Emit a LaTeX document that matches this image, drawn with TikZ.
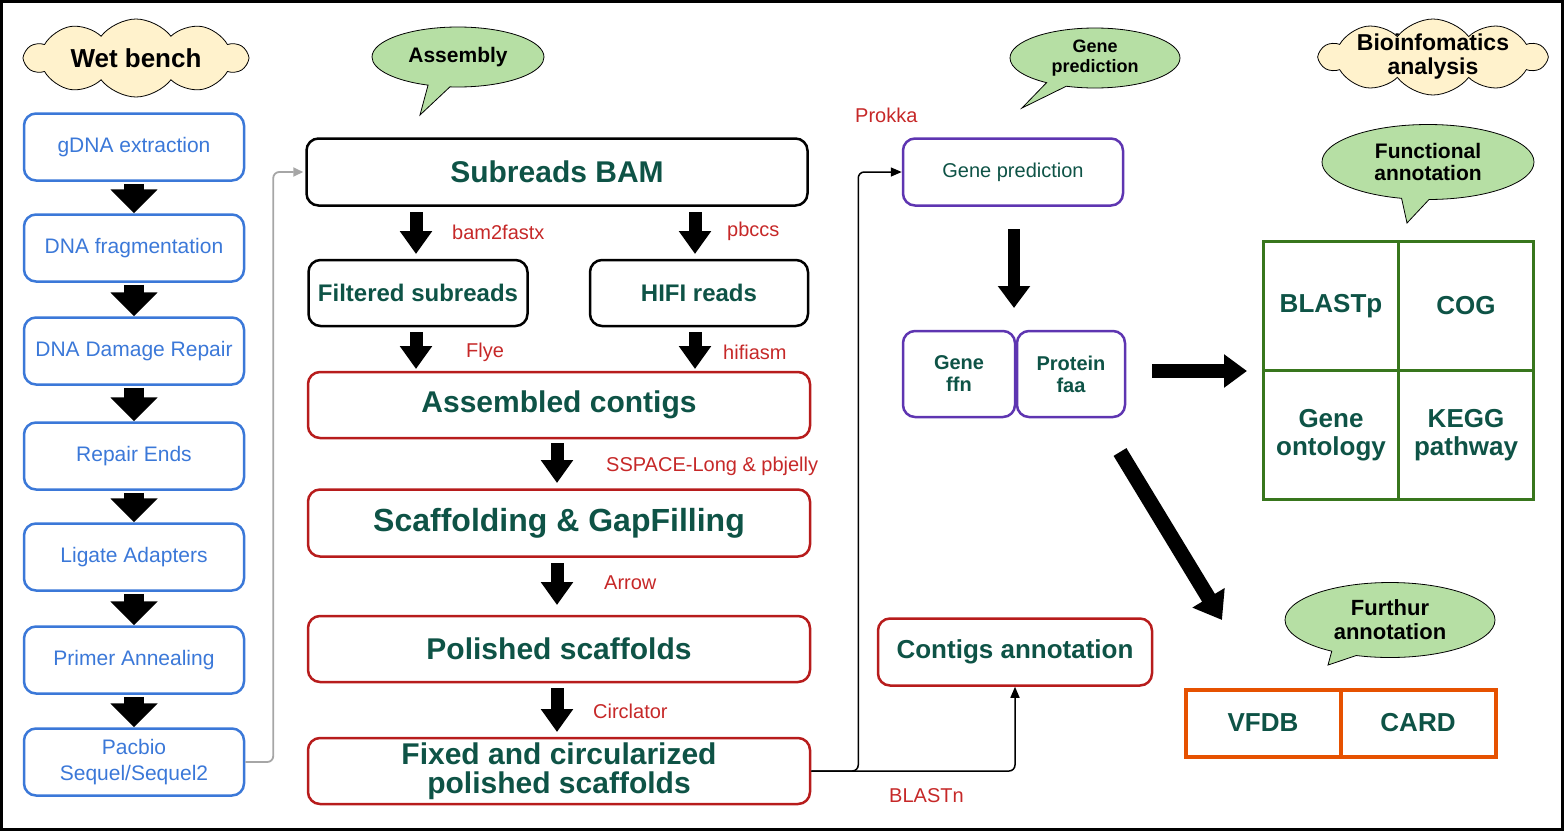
\documentclass[tikz,border=0pt]{standalone}
\usepackage{fontspec}
\setmainfont{Liberation Sans}
\usetikzlibrary{shapes.symbols,shapes.callouts,arrows.meta,calc}
\definecolor{dgreen}{HTML}{0E5346}
\definecolor{lred}{HTML}{C62828}
\definecolor{bred}{HTML}{B71C1C}
\definecolor{wblue}{HTML}{3B78D8}
\definecolor{purp}{HTML}{5E35B1}
\definecolor{ggreen}{HTML}{38761D}
\definecolor{orng}{HTML}{E65100}
\definecolor{callfill}{HTML}{B6DFA4}
\definecolor{cloudfill}{HTML}{FFF2CC}
\tikzset{
  fs/.style={font=\fontsize{#1}{#1}\selectfont},
  wetbox/.style={draw=wblue, line width=2.5pt, rounded corners=12pt, minimum width=220pt, minimum height=67pt, text=wblue, fs=21, align=center, inner sep=0pt},
  asmbox/.style={draw=black, line width=2.5pt, rounded corners=12pt, minimum height=67pt, text=dgreen, inner sep=0pt, align=center},
  redbox/.style={asmbox, draw=bred},
  purpbox/.style={draw=purp, line width=2.5pt, rounded corners=12pt, text=dgreen, inner sep=0pt, align=center},
  cell/.style={draw=ggreen, line width=3pt, minimum width=135pt, minimum height=129pt, text=dgreen, font=\bfseries\fontsize{26}{28}\selectfont, align=center, inner sep=0pt},
  dbcell/.style={draw=orng, line width=4pt, minimum width=155pt, minimum height=67pt, text=dgreen, font=\bfseries\fontsize{26}{28}\selectfont, inner sep=0pt},
  lbl/.style={text=lred, anchor=west, fs=20, inner sep=0pt},
  callbubble/.style={ellipse callout, draw=black, line width=0.8pt, fill=callfill, align=center, inner sep=0pt},
  cloudy/.style={cloud, cloud puffs=10, cloud puff arc=105, cloud ignores aspect, draw=black, line width=0.8pt, fill=cloudfill, align=center, inner sep=0pt},
  wetarrow/.style={line width=20pt, -{Triangle[length=24pt,width=46pt]}},
  blkarrow/.style={line width=13pt, -{Triangle[length=23pt,width=31pt]}},
  conn/.style={line width=1.5pt, rounded corners=6pt, -{Triangle[length=11pt,width=9pt]}},
}
\begin{document}
\begin{tikzpicture}[x=1pt,y=-1pt]
\useasboundingbox (0,0) rectangle (1564,831);
\draw[line width=3pt] (1.5,1.5) rectangle (1562.5,829.5);

% Wet bench
\node[cloudy, inner ysep=-6pt, minimum width=222pt, minimum height=78pt, font=\bfseries\fontsize{26}{28}\selectfont] (wet) at (136,58) {Wet bench};
\node[wetbox] (w1) at (134,147) {gDNA extraction};
\node[wetbox] (w2) at (134,248) {DNA fragmentation};
\node[wetbox] (w3) at (134,351) {DNA Damage Repair};
\node[wetbox] (w4) at (134,456) {Repair Ends};
\node[wetbox] (w5) at (134,557) {Ligate Adapters};
\node[wetbox] (w6) at (134,660) {Primer Annealing};
\node[wetbox, font=\fontsize{21}{26}\selectfont] (w7) at (134,762) {Pacbio\\Sequel/Sequel2};
\foreach \a/\b in {w1/w2,w2/w3,w3/w4,w4/w5,w5/w6,w6/w7}
  \draw[wetarrow, shorten <=2pt] (\a) -- (\b);

% Assembly
\node[callbubble, minimum width=172pt, minimum height=60pt, callout absolute pointer={(420,115)}, font=\bfseries\fontsize{21}{24}\selectfont] (asmcall) at (458,57) {Assembly};
\node[asmbox, minimum width=501pt, font=\bfseries\fontsize{30}{32}\selectfont] (sub) at (557,172) {Subreads BAM};
\node[asmbox, minimum width=219pt, minimum height=66pt, font=\bfseries\fontsize{24}{26}\selectfont] (fil) at (418,293) {Filtered subreads};
\node[asmbox, minimum width=218pt, minimum height=66pt, font=\bfseries\fontsize{24}{26}\selectfont] (hifi) at (699,293) {HIFI reads};
\node[redbox, minimum width=502pt, minimum height=66pt, font=\bfseries\fontsize{30}{32}\selectfont] (asm) at (559,405) {Assembled contigs};
\node[redbox, minimum width=502pt, font=\bfseries\fontsize{32}{34}\selectfont] (scaf) at (559,523) {Scaffolding \& GapFilling};
\node[redbox, minimum width=502pt, minimum height=66pt, font=\bfseries\fontsize{30}{32}\selectfont] (pol) at (559,649) {Polished scaffolds};
\node[redbox, minimum width=502pt, minimum height=66pt, font=\bfseries\fontsize{30}{29}\selectfont] (fix) at (559,771) {Fixed and circularized\\polished scaffolds};

\draw[conn, line width=1.8pt, -{Triangle[length=10pt,width=9pt]}, color=gray!70] (w7.east) -- ++(28,0) |- ($(sub.west)+(-2,0)$);

\coordinate (a1s) at (416,212); \coordinate (a1e) at (416,254);
\coordinate (a2s) at (695,212); \coordinate (a2e) at (695,254);
\coordinate (a3s) at (416,332); \coordinate (a3e) at (416,369);
\coordinate (a4s) at (695,332); \coordinate (a4e) at (695,369);
\draw[blkarrow] (a1s) -- (a1e);
\draw[blkarrow] (a2s) -- (a2e);
\draw[blkarrow] (a3s) -- (a3e);
\draw[blkarrow] (a4s) -- (a4e);
\coordinate (m1s) at (557,443); \coordinate (m1e) at (557,483);
\coordinate (m2s) at (557,563); \coordinate (m2e) at (557,605);
\coordinate (m3s) at (557,688); \coordinate (m3e) at (557,732);
\draw[blkarrow] (m1s) -- (m1e);
\draw[blkarrow] (m2s) -- (m2e);
\draw[blkarrow] (m3s) -- (m3e);

\node[lbl] (l1) at (452,232) {bam2fastx};
\node[lbl] (l2) at (727,231) {pbccs};
\node[lbl] (l3) at (466,352) {Flye};
\node[lbl] (l4) at (723,352) {hifiasm};
\node[lbl] (l5) at (606,466) {SSPACE-Long \& pbjelly};
\node[lbl] (l6) at (604,583) {Arrow};
\node[lbl] (l7) at (593,711) {Circlator};
\node[lbl] (l8) at (855,115) {Prokka};
\node[lbl] (l9) at (889,796) {BLASTn};

% Gene prediction
\node[callbubble, minimum width=170pt, minimum height=60pt, callout absolute pointer={(1022,108)}, font=\bfseries\fontsize{18}{20}\selectfont] (gpcall) at (1095,58) {Gene\\prediction};
\node[purpbox, minimum width=220pt, minimum height=67pt, font=\fontsize{20}{22}\selectfont] (gp) at (1013,172) {Gene prediction};
\node[purpbox, minimum width=112pt, minimum height=86pt, font=\bfseries\fontsize{20}{22}\selectfont] (ffn) at (959,374) {Gene\\ffn};
\node[purpbox, minimum width=108pt, minimum height=86pt, font=\bfseries\fontsize{20}{22}\selectfont] (faa) at (1071,374) {Protein\\faa};
\node[redbox, minimum width=274pt, minimum height=67pt, font=\bfseries\fontsize{26}{28}\selectfont] (ca) at (1015,652) {Contigs annotation};

\coordinate (g1) at (1014,229); \coordinate (g2) at (1014,308);
\draw[line width=12pt, -{Triangle[length=22pt,width=31pt]}] (g1) -- (g2);

\draw[conn] (fix.east) -- ++(47,0) |- (gp.west);
\draw[conn] (fix.east) -| (ca.south);

% Bioinformatics
\node[cloudy, inner ysep=-14pt, inner xsep=-4pt, minimum width=226pt, minimum height=76pt, font=\bfseries\fontsize{23}{24}\selectfont] (bio) at (1433,57) {Bioinfomatics\\analysis};
\node[callbubble, minimum width=212pt, minimum height=75pt, callout absolute pointer={(1407,223)}, font=\bfseries\fontsize{21}{22}\selectfont] (fcall) at (1428,162) {Functional\\annotation};
\node[cell] (c1) at (1331,306) {BLASTp};
\node[cell] (c2) at (1466,306) {COG};
\node[cell] (c3) at (1331,435) {Gene\\ontology};
\node[cell] (c4) at (1466,435) {KEGG\\pathway};

\coordinate (r1) at (1152,371); \coordinate (r2) at (1247,371);
\draw[line width=14pt, -{Triangle[length=23pt,width=32pt]}] (r1) -- (r2);
\coordinate (d1) at (1120,452); \coordinate (d2) at (1222,620);
\draw[line width=15pt, -{Triangle[length=26pt,width=36pt]}] (d1) -- (d2);

\node[callbubble, minimum width=210pt, minimum height=75pt, callout absolute pointer={(1328,665)}, font=\bfseries\fontsize{22}{24}\selectfont] (furcall) at (1390,620) {Furthur\\annotation};
\node[dbcell] (vf) at (1263,723) {VFDB};
\node[dbcell] (card) at (1418,723) {CARD};
\end{tikzpicture}
\end{document}
